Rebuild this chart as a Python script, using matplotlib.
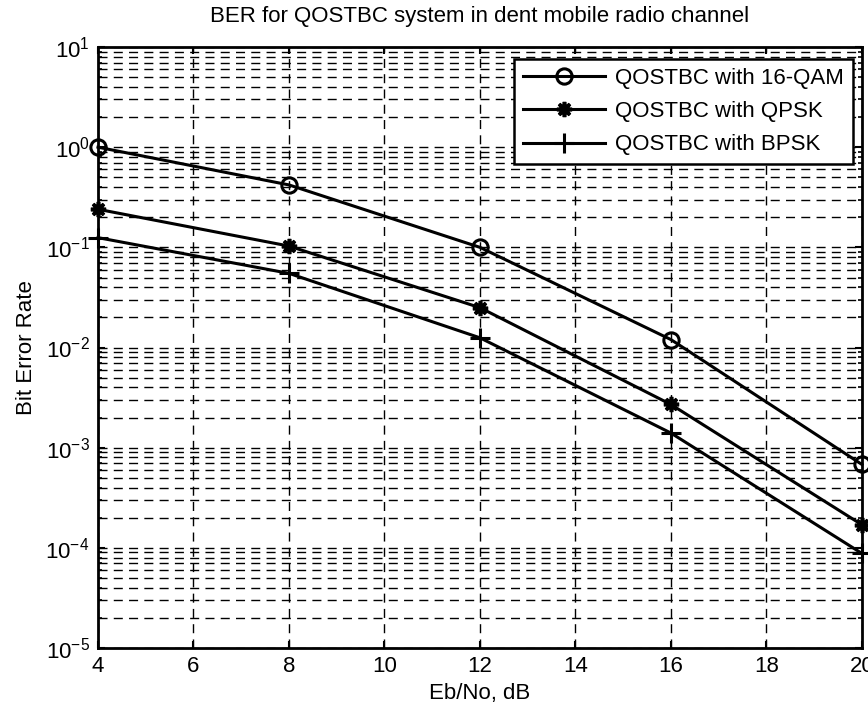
import numpy as np
import matplotlib
matplotlib.use('Agg')
from matplotlib import pyplot as plt

plt.rcParams['font.family'] = ['Liberation Sans', 'DejaVu Sans']
plt.rcParams['mathtext.default'] = 'regular'

# Eb/No points and BER curves
ebno = [4, 8, 12, 16, 20]
ber_16qam = [1.0, 0.42, 0.10, 0.012, 0.00068]
ber_qpsk = [0.24, 0.103, 0.025, 0.0027, 0.00017]
ber_bpsk = [0.125, 0.055, 0.0125, 0.0014, 0.000088]
labels = ['QOSTBC with 16-QAM', 'QOSTBC with QPSK', 'QOSTBC with BPSK']
xticks = [4, 6, 8, 10, 12, 14, 16, 18, 20]

fs = 16

fig = plt.figure(figsize=(8.68, 7.08), dpi=100)
ax = fig.add_axes([0.1129, 0.0847, 0.8801, 0.8489])

lw = 2.2
ax.semilogy(ebno, ber_16qam, 'k-o', lw=lw, ms=11, mew=2.2, mfc='none', label=labels[0], clip_on=False, zorder=5)
ax.semilogy(ebno, ber_qpsk, 'k-', marker=(8, 2, 0), lw=lw, ms=11, mew=2.6, label=labels[1], clip_on=False, zorder=5)
ax.semilogy(ebno, ber_bpsk, 'k-+', lw=lw, ms=14, mew=2.2, label=labels[2], clip_on=False, zorder=5)

ax.set_xlim(4, 20)
ax.set_ylim(1e-5, 1e1)
ax.set_xticks(xticks)
ax.set_xticklabels([str(t) for t in xticks])

ax.grid(True, which='major', axis='x', color='k', lw=1.0, ls=(0, (6.5, 4.5)))
ax.grid(True, which='both', axis='y', color='k', lw=1.0, ls=(0, (6.5, 4.5)))
ax.set_axisbelow(True)

ax.tick_params(which='both', direction='in', top=True, right=True, labelsize=fs, pad=6)
ax.tick_params(which='major', length=5, width=1.5)
ax.tick_params(which='minor', length=3, width=1.2)
ax.tick_params(axis='x', which='minor', bottom=False, top=False)
for s in ax.spines.values():
    s.set_linewidth(2.0)

ax.set_title('BER for QOSTBC system in dent mobile radio channel', fontsize=fs, pad=18)
ax.set_xlabel('Eb/No, dB', fontsize=fs, labelpad=4)
ax.set_ylabel('Bit Error Rate', fontsize=fs, labelpad=6)

leg = ax.legend(loc='upper right', bbox_to_anchor=(0.983, 0.9167), bbox_transform=fig.transFigure,
                fontsize=fs, fancybox=False, framealpha=1, edgecolor='k', handlelength=3.7,
                handletextpad=0.45, borderpad=0.4, labelspacing=0.55, borderaxespad=0)
leg.get_frame().set_linewidth(1.8)

fig.savefig('out.png', dpi=100)
